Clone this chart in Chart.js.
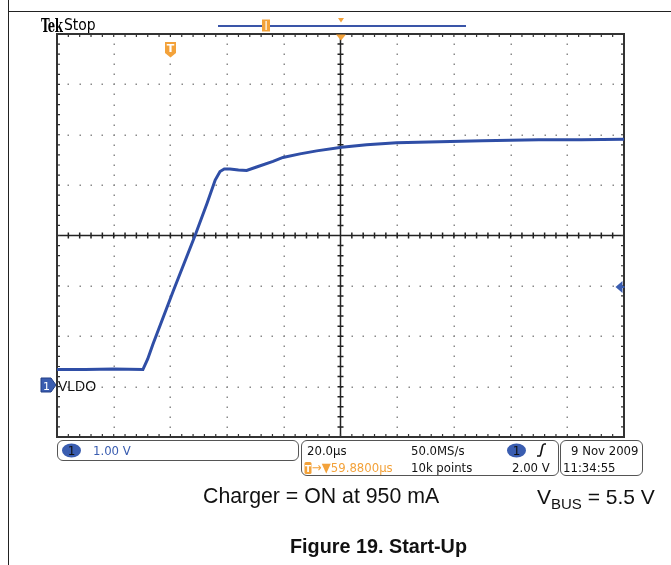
<!DOCTYPE html>
<html>
<head>
<meta charset="utf-8">
<script src="https://cdn.jsdelivr.net/npm/chart.js@4/dist/chart.umd.min.js"></script>
<style>
  body { margin:0; background:#fff; }
  #wrap { position:relative; width:671px; height:565px; overflow:hidden; }
  #scope { position:absolute; left:0; top:0; }
  .t { position:absolute; white-space:nowrap; line-height:1; }
  .st { font-family:"DejaVu Sans Condensed","DejaVu Sans",sans-serif; font-size:13px; color:#111; }
  .box { position:absolute; border:1px solid #555; border-radius:6px; box-sizing:border-box; }
  .cap { font-family:"Liberation Sans",Arial,sans-serif; color:#111; }
  svg { position:absolute; overflow:visible; }
</style>
</head>
<body>
<div id="wrap">
  <canvas id="scope" width="671" height="565"></canvas>

  <!-- bordures de page -->
  <div style="position:absolute;left:8px;top:0;width:1px;height:565px;background:#222"></div>
  <div style="position:absolute;left:8px;top:11px;width:663px;height:1px;background:#222"></div>

  <!-- en-tête Tek -->
  <div class="t" style="left:41px;top:17px;font-family:'DejaVu Serif Condensed','DejaVu Serif',serif;font-weight:bold;font-size:18px;transform:scaleX(0.72);transform-origin:left top;letter-spacing:-0.6px">Tek</div>
  <div class="t" style="left:64px;top:18px;font-family:'DejaVu Sans Condensed','DejaVu Sans',sans-serif;font-size:15.5px;">Stop</div>

  <!-- barre d'enregistrement + marqueurs -->
  <div style="position:absolute;left:218px;top:25px;width:248px;height:1.5px;background:#3a55a8"></div>
  <svg style="left:0;top:0" width="671" height="70">
    <rect x="262" y="19.5" width="8" height="12" fill="#f3a23a"/>
    <rect x="265.5" y="21" width="1.2" height="9" fill="#fff"/>
    <polygon points="338,18 344,18 341,22.5" fill="#f3a23a"/>
    <polygon points="336,34.5 346,34.5 341,40.5" fill="#f3a23a"/>
    <path d="M165,42 h11 v11 l-5.5,4.5 l-5.5,-4.5 z" fill="#f3a23a"/>
    <text x="170.5" y="52" font-family="DejaVu Sans,sans-serif" font-size="11" font-weight="bold" fill="#fff" text-anchor="middle">T</text>
  </svg>

  <!-- marqueur voie 1 et niveau de déclenchement -->
  <svg style="left:0;top:0" width="671" height="440">
    <path d="M41,378 h10 l5,7 l-5,7 h-10 z" fill="#3a5db0" stroke="#233f86" stroke-width="1"/>
    <text x="46.5" y="390" font-family="DejaVu Sans,sans-serif" font-size="11" fill="#fff" text-anchor="middle">1</text>
    <path d="M615.5,287 l7,-6 v12 z" fill="#3a5db0"/>
    <rect x="620" y="286" width="4.5" height="2" fill="#3a5db0"/>
  </svg>
  <div class="t" style="left:58px;top:379px;font-family:'Liberation Sans',Arial,sans-serif;font-size:14px;color:#111">VLDO</div>

  <!-- boîtes d'état -->
  <div class="box" style="left:57px;top:440px;width:242px;height:21px"></div>
  <svg style="left:0;top:0" width="671" height="480">
    <ellipse cx="71.5" cy="450.5" rx="9.5" ry="7" fill="#3a5db0"/>
    <text x="71.5" y="455" font-family="DejaVu Sans,sans-serif" font-size="12" fill="#111" text-anchor="middle">1</text>
    <ellipse cx="516.5" cy="450.5" rx="9.5" ry="7" fill="#3a5db0"/>
    <text x="516.5" y="455" font-family="DejaVu Sans,sans-serif" font-size="12" fill="#111" text-anchor="middle">1</text>
    <path d="M537,456 h2.5 q1,0 1.5,-3 l1.5,-7 q0.5,-2 2,-2 h1.5" fill="none" stroke="#111" stroke-width="1.6"/>
    <rect x="304.5" y="462" width="7" height="12" rx="1.5" fill="#f3a23a"/>
    <text x="308" y="472" font-family="DejaVu Sans,sans-serif" font-size="9" font-weight="bold" fill="#fff" text-anchor="middle">T</text>
  </svg>
  <div class="t st" style="left:93px;top:444px;color:#3a5db0">1.00 V</div>

  <div class="box" style="left:301px;top:440px;width:258px;height:36px"></div>
  <div class="t st" style="left:307px;top:444px">20.0µs</div>
  <div class="t st" style="left:411px;top:444px">50.0MS/s</div>
  <div class="t st" style="left:312px;top:461px;color:#f3a23a">→▼59.8800µs</div>
  <div class="t st" style="left:411px;top:461px">10k points</div>
  <div class="t st" style="left:512px;top:461px">2.00 V</div>

  <div class="box" style="left:560px;top:440px;width:83px;height:36px"></div>
  <div class="t st" style="left:571px;top:444px">9 Nov 2009</div>
  <div class="t st" style="left:563px;top:461px">11:34:55</div>

  <!-- légendes -->
  <div class="t cap" style="left:203px;top:486px;font-size:21.3px">Charger = ON at 950 mA</div>
  <div class="t cap" style="left:537px;top:486px;font-size:21px">V<span style="font-size:15px;position:relative;top:5px">BUS</span> = 5.5 V</div>
  <div class="t cap" style="left:290px;top:537px;font-size:19.8px;font-weight:bold">Figure 19. Start-Up</div>
</div>

<script>
const tempsUs = [0, 10, 20, 30.3, 32, 33.9, 41, 48.7, 53, 55.8, 57.5, 59, 61, 64, 66.9, 70.4, 76.2, 79.7, 85.7, 91.6, 100.4, 109.2, 119.8, 135, 150, 170, 185, 200];
const vldo   = [0.34, 0.34, 0.35, 0.34, 0.55, 0.85, 1.9, 3.0, 3.65, 4.1, 4.27, 4.32, 4.32, 4.3, 4.29, 4.36, 4.47, 4.55, 4.62, 4.68, 4.75, 4.8, 4.84, 4.86, 4.88, 4.9, 4.9, 4.91];

// graticule : 10 × 8 divisions
const divX = 10, divY = 8;
const usParDiv = 20, voltsParDiv = 1.0;
const masseDiv = -3; // position de la masse de la voie 1, en divisions depuis le centre

// plugin qui dessine la grille façon Tektronix
const graticule = {
  id: 'graticule',
  beforeDatasetsDraw(chart) {
    const { ctx, scales } = chart;
    const sx = scales.x, sy = scales.y;
    const L = sx.getPixelForValue(sx.min), R = sx.getPixelForValue(sx.max);
    const T = sy.getPixelForValue(sy.max), B = sy.getPixelForValue(sy.min);
    const dx = (R - L) / divX, dy = (B - T) / divY;
    const cx = L + dx * divX / 2, cy = T + dy * divY / 2;
    ctx.save();
    ctx.fillStyle = '#8a8a8a';
    // lignes pointillées verticales
    for (let i = 1; i < divX; i++) {
      if (i === divX / 2) continue;
      const x = L + i * dx;
      for (let k = 1; k < divY * 5; k++) ctx.fillRect(Math.round(x) - 0.5, Math.round(T + k * dy / 5) - 0.5, 1.5, 1.5);
    }
    // lignes pointillées horizontales
    for (let j = 1; j < divY; j++) {
      if (j === divY / 2) continue;
      const y = T + j * dy;
      for (let k = 1; k < divX * 5; k++) ctx.fillRect(Math.round(L + k * dx / 5) - 0.5, Math.round(y) - 0.5, 1.5, 1.5);
    }
    // croix centrale
    ctx.strokeStyle = '#222';
    ctx.lineWidth = 1.5;
    ctx.beginPath();
    ctx.moveTo(L, cy); ctx.lineTo(R, cy);
    ctx.moveTo(cx, T); ctx.lineTo(cx, B);
    for (let k = 1; k < divX * 5; k++) { const x = L + k * dx / 5; ctx.moveTo(x, cy - 3); ctx.lineTo(x, cy + 3); }
    for (let k = 1; k < divY * 5; k++) { const y = T + k * dy / 5; ctx.moveTo(cx - 3, y); ctx.lineTo(cx + 3, y); }
    ctx.stroke();
    // cadre + graduations internes
    ctx.strokeStyle = '#333';
    ctx.lineWidth = 2;
    ctx.strokeRect(L, T, R - L, B - T);
    ctx.lineWidth = 1.2;
    ctx.beginPath();
    for (let k = 1; k < divX * 5; k++) {
      const x = L + k * dx / 5;
      ctx.moveTo(x, T); ctx.lineTo(x, T + 3);
      ctx.moveTo(x, B); ctx.lineTo(x, B - 3);
    }
    for (let k = 1; k < divY * 5; k++) {
      const y = T + k * dy / 5;
      ctx.moveTo(L, y); ctx.lineTo(L + 3, y);
      ctx.moveTo(R, y); ctx.lineTo(R - 3, y);
    }
    ctx.stroke();
    ctx.restore();
  }
};

const ctx = document.getElementById('scope').getContext('2d');
new Chart(ctx, {
  type: 'line',
  data: {
    datasets: [{
      data: tempsUs.map((t, i) => ({ x: t, y: vldo[i] })),
      borderColor: '#2f4ea6',
      borderWidth: 3,
      pointRadius: 0,
      tension: 0
    }]
  },
  options: {
    responsive: false,
    animation: false,
    layout: { padding: { left: 57, right: 47, top: 34, bottom: 128 } },
    plugins: { legend: { display: false }, tooltip: { enabled: false } },
    scales: {
      x: { type: 'linear', min: 0, max: divX * usParDiv, display: false },
      y: { min: (-divY / 2 - masseDiv) * voltsParDiv, max: (divY / 2 - masseDiv) * voltsParDiv, display: false }
    }
  },
  plugins: [graticule]
});
</script>
</body>
</html>
